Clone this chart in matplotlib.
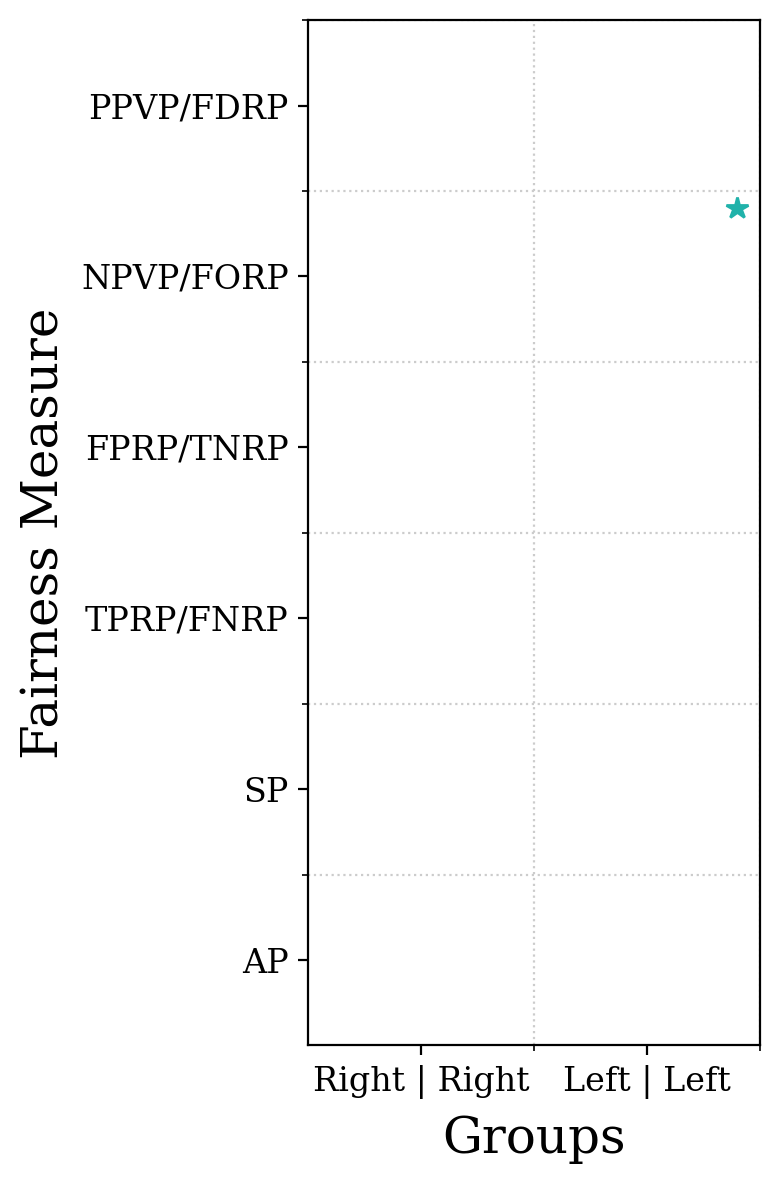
import numpy as np
import matplotlib.pyplot as plt

plt.rcParams['font.family'] = 'DejaVu Serif'

measures = ["AP", "SP", "TPRP/FNRP", "FPRP/TNRP", "NPVP/FORP", "PPVP/FDRP"]
groups = ["Right | Right", "Left | Left"]

# flagged points: (group position, measure position)
flag_x = [1.9]
flag_y = [4.4]

fig, ax = plt.subplots(figsize=(3.9, 5.9), dpi=200)
fig.subplots_adjust(left=0.395, right=0.974, top=0.983, bottom=0.114)

ax.plot(flag_x, flag_y, linestyle="none", marker="*", markersize=8,
        color="lightseagreen")

ax.set_xlim(0, len(groups))
ax.set_ylim(-0.5, len(measures) - 0.5)

ax.set_xticks(np.arange(len(groups)) + 0.5)
ax.set_xticklabels(groups)
ax.set_xticks(np.arange(1, len(groups) + 1), minor=True)
ax.set_yticks(np.arange(len(measures)))
ax.set_yticklabels(measures)
ax.set_yticks(np.arange(1, len(measures) + 1) - 0.5, minor=True)
ax.tick_params(axis="both", which="major", labelsize=12)

ax.grid(which="minor", linestyle=":", color="#cccccc", linewidth=0.8)
ax.grid(which="major", visible=False)

ax.set_xlabel("Groups", fontsize=18, labelpad=5.5)
ax.set_ylabel("Fairness Measure", fontsize=18)

plt.savefig("out.png", dpi=200)
